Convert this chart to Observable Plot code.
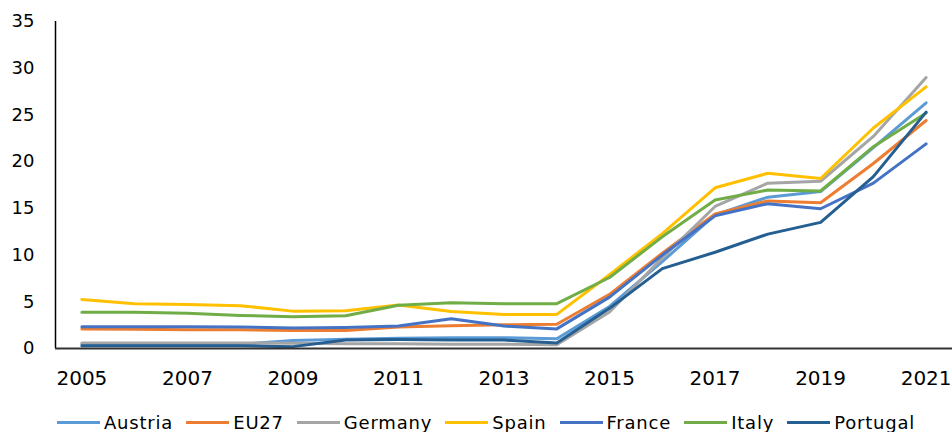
<!DOCTYPE html>
<html>
<head>
<meta charset="utf-8">
<script src="https://cdn.jsdelivr.net/npm/d3@7"></script>
<script src="https://cdn.jsdelivr.net/npm/@observablehq/plot@0.6"></script>
<style>
  html, body { margin: 0; padding: 0; background: #fff; }
  body { width: 952px; height: 432px; overflow: hidden; font-family: "DejaVu Sans", sans-serif; }
  #chart svg { display: block; }
  #legend { margin-top: 10px; height: 24px; display: flex; align-items: center; padding-left: 57px; font-size: 18px; letter-spacing: 0.8px; color: #000; }
  .item { display: flex; align-items: center; margin-right: 13px; }
  .sw { width: 43px; height: 3px; margin-right: 4px; }
</style>
</head>
<body>
<div id="chart"></div>
<div id="legend"></div>
<script>
const years = [2005, 2006, 2007, 2008, 2009, 2010, 2011, 2012, 2013, 2014, 2015, 2016, 2017, 2018, 2019, 2020, 2021];
const tickYears = [2005, 2007, 2009, 2011, 2013, 2015, 2017, 2019, 2021];
const yTicks = [0, 5, 10, 15, 20, 25, 30, 35];
const seriesNames = ["Austria", "EU27", "Germany", "Spain", "France", "Italy", "Portugal"];
const seriesColors = ["#5B9BD5", "#ED7D31", "#A5A5A5", "#FFC000", "#4472C4", "#70AD47", "#255E91"];

const austria  = [0.45, 0.45, 0.45, 0.45, 0.85, 1.0, 1.1, 1.15, 1.15, 1.05, 4.5, 9.3, 14.3, 16.2, 16.8, 21.5, 26.3];
const eu27     = [2.1, 2.05, 2.0, 2.0, 1.93, 1.93, 2.3, 2.43, 2.54, 2.6, 5.8, 10.2, 14.4, 15.8, 15.6, 19.8, 24.4];
const germany  = [0.6, 0.6, 0.6, 0.6, 0.55, 0.5, 0.5, 0.45, 0.45, 0.4, 3.9, 9.7, 15.2, 17.7, 17.9, 22.7, 29.0];
const spain    = [5.25, 4.8, 4.72, 4.58, 4.0, 4.05, 4.65, 3.97, 3.65, 3.65, 7.9, 12.3, 17.2, 18.75, 18.2, 23.6, 28.0];
const france   = [2.33, 2.33, 2.33, 2.3, 2.2, 2.25, 2.4, 3.18, 2.4, 2.1, 5.5, 10.0, 14.2, 15.5, 14.96, 17.7, 21.9];
const italy    = [3.87, 3.87, 3.76, 3.54, 3.4, 3.5, 4.62, 4.9, 4.8, 4.8, 7.6, 11.95, 15.9, 16.96, 16.86, 21.6, 25.2];
const portugal = [0.3, 0.3, 0.3, 0.3, 0.2, 0.9, 0.95, 0.92, 0.9, 0.6, 4.3, 8.55, 10.3, 12.24, 13.5, 18.4, 25.3];

const seriesValues = [austria, eu27, germany, spain, france, italy, portugal];
const data = [];
seriesNames.forEach((name, s) => {
  years.forEach((year, i) => data.push({series: name, year, value: seriesValues[s][i]}));
});

const chart = Plot.plot({
  width: 952,
  height: 400,
  marginLeft: 55,
  marginRight: 0,
  marginTop: 21,
  marginBottom: 52,
  style: {fontFamily: "'DejaVu Sans', sans-serif", color: "#000", background: "#fff"},
  x: {domain: [2004.5, 2021.5]},
  y: {domain: [0, 35]},
  color: {domain: seriesNames, range: seriesColors},
  marks: [
    Plot.axisY({ticks: yTicks, tickSize: 0, tickPadding: 21, fontSize: 18, label: null}),
    Plot.axisX({ticks: tickYears, tickSize: 0, tickPadding: 22, fontSize: 20, label: null, tickFormat: d => String(d)}),
    Plot.line(data, {x: "year", y: "value", z: "series", stroke: "series", strokeWidth: 3, strokeLinejoin: "round", strokeLinecap: "round"}),
    Plot.ruleX([2004.5], {y1: 0, y2: 35, stroke: "#000", strokeWidth: 1.5}),
    Plot.ruleY([0], {stroke: "#333", strokeWidth: 2})
  ]
});
document.getElementById("chart").appendChild(chart);

const legend = document.getElementById("legend");
seriesNames.forEach((name, i) => {
  const item = document.createElement("div");
  item.className = "item";
  const sw = document.createElement("div");
  sw.className = "sw";
  sw.style.background = seriesColors[i];
  const label = document.createElement("span");
  label.textContent = name;
  item.appendChild(sw);
  item.appendChild(label);
  legend.appendChild(item);
});
</script>
</body>
</html>
